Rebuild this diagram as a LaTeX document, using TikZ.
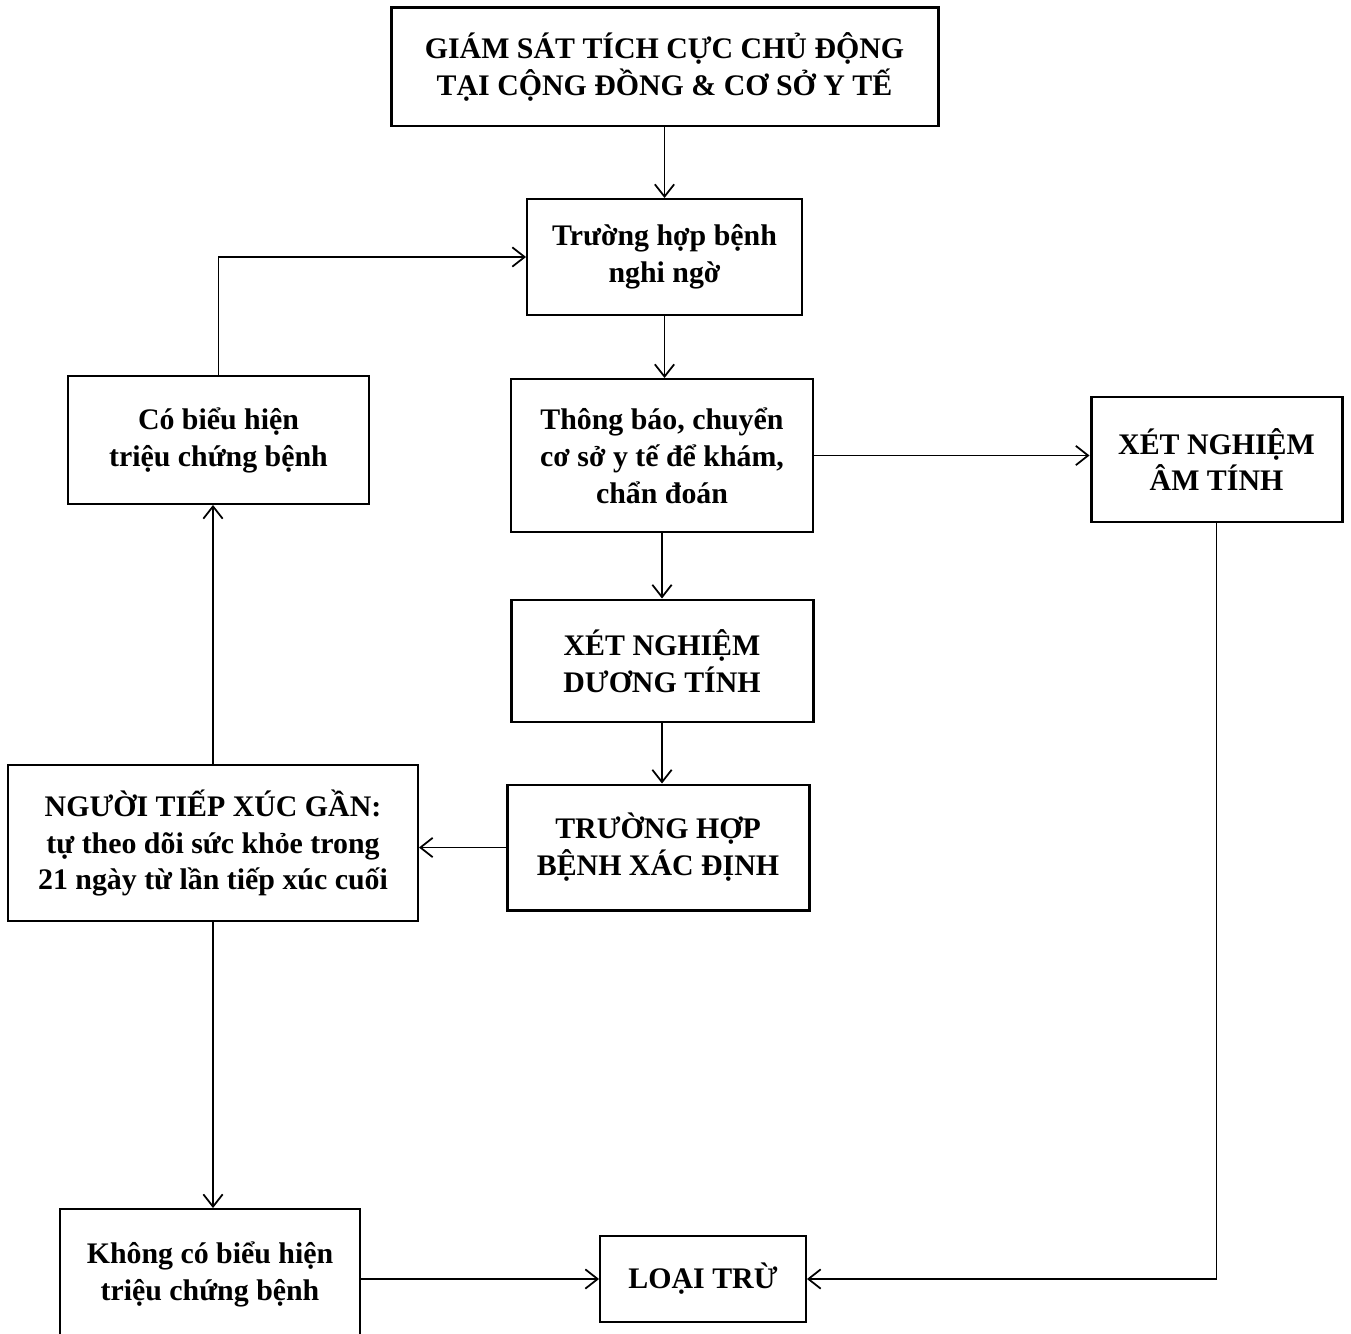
\documentclass[tikz,border=0pt]{standalone}
\usepackage{fontspec}
\setmainfont{Liberation Serif}
\usetikzlibrary{arrows.meta}

\newdimen\pxu
\pxu=0.02cm

\tikzset{
  box/.style={draw, line width=1.1pt, inner sep=0pt, align=center,
    font=\bfseries\fontsize{17}{21}\selectfont},
  boldbox/.style={box, line width=1.7pt},
  arr/.style={line width=1.1pt, -{Straight Barb[length=7pt,width=11pt,line width=1pt]}}
}

\begin{document}
\begin{tikzpicture}[x=0.02cm, y=-0.02cm]
			\useasboundingbox (0, 0) rectangle (1351, 1334);
			\clip (0, 0) rectangle (1351, 1334);
			% middle column
			\node[boldbox, minimum width=547\pxu, minimum height=118\pxu] (top) at (664.5, 67) {GIÁM SÁT TÍCH CỰC CHỦ ĐỘNG\\TẠI CỘNG ĐỒNG \& CƠ SỞ Y TẾ};
			\node[box, minimum width=275\pxu, minimum height=116\pxu] (nghi) at (664.5, 257) {Trường hợp bệnh\\nghi ngờ};
			\node[box, minimum width=302\pxu, minimum height=153\pxu] (thong) at (662, 455.5) {Thông báo, chuyển\\cơ sở y tế để khám,\\chẩn đoán};
			\node[boldbox, minimum width=302\pxu, minimum height=122\pxu] (duong) at (662, 661) {XÉT NGHIỆM\\DƯƠNG TÍNH};
			\node[boldbox, minimum width=302\pxu, minimum height=125\pxu] (xacdinh) at (658, 847.5) {TRƯỜNG HỢP\\BỆNH XÁC ĐỊNH};
			% right column
			\node[boldbox, minimum width=251\pxu, minimum height=125\pxu] (am) at (1216.5, 459.5) {XÉT NGHIỆM\\ÂM TÍNH};
			% left column
			\node[box, minimum width=301\pxu, minimum height=128\pxu] (co) at (218.5, 440) {Có biểu hiện\\triệu chứng bệnh};
			\node[box, minimum width=410\pxu, minimum height=156\pxu] (tiepxuc) at (213, 843) {NGƯỜI TIẾP XÚC GẦN:\\tự theo dõi sức khỏe trong\\21 ngày từ lần tiếp xúc cuối};
			\node[box, minimum width=300\pxu, minimum height=131\pxu] (khong) at (210, 1274.5) {Không có biểu hiện\\triệu chứng bệnh};
			\node[box, minimum width=206\pxu, minimum height=86\pxu] (loaitru) at (703, 1279) {LOẠI TRỪ};
			% connectors
			\draw[arr] (top.south) -- (top.south |- nghi.north);
			\draw[arr] (nghi.south) -- (nghi.south |- thong.north);
			\draw[arr] (thong.south) -- (duong.north);
			\draw[arr] (duong.south) -- (duong.south |- xacdinh.north);
			\draw[arr] (thong.east) -- (thong.east -| am.west);
			\draw[arr] (xacdinh.west) -- (xacdinh.west -| tiepxuc.east);
			\draw[arr] (tiepxuc.north) -- (tiepxuc.north |- co.south);
			\draw[arr] (co.north) |- (nghi.west);
			\draw[arr] (tiepxuc.south) -- (tiepxuc.south |- khong.north);
			\draw[arr] (khong.east |- loaitru.west) -- (loaitru.west);
			\draw[arr] (am.south) |- (loaitru.east);
			\end{tikzpicture}
\end{document}
